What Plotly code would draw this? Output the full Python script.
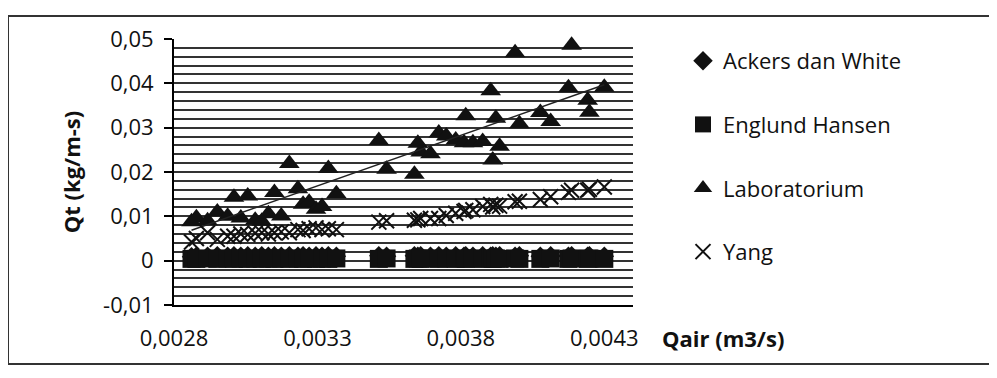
import numpy as np
import plotly.graph_objects as go

# ---- data ----
qair = [0.002861, 0.002878, 0.002917, 0.002951, 0.002987, 0.003009, 0.003033, 0.003057, 0.003083, 0.003106,
        0.003129, 0.003150, 0.003174, 0.003202, 0.003232, 0.003250, 0.003271, 0.003295, 0.003316, 0.003338,
        0.003366,
        0.003514, 0.003541,
        0.003638, 0.003650, 0.003660, 0.003694, 0.003723, 0.003749, 0.003782, 0.003811, 0.003817, 0.003842,
        0.003876, 0.003904, 0.003911, 0.003922, 0.003935, 0.003989, 0.004004,
        0.004077, 0.004113, 0.004175, 0.004186, 0.004242, 0.004248, 0.004300]

laboratorium = [0.0088, 0.0097, 0.0090, 0.0110, 0.0100, 0.0143, 0.0096, 0.0146, 0.0091, 0.0089,
                0.0106, 0.0154, 0.0101, 0.0219, 0.0162, 0.0127, 0.0132, 0.0116, 0.0122, 0.0208,
                0.0151,
                0.0271, 0.0206,
                0.0195, 0.0265, 0.0245, 0.0241, 0.0288, 0.0281, 0.0272, 0.0266, 0.0327, 0.0266,
                0.0269, 0.0383, 0.0227, 0.0321, 0.0258, 0.0469, 0.0309,
                0.0334, 0.0314, 0.0390, 0.0486, 0.0362, 0.0335, 0.0391]

yang = [0.0042, 0.0050, 0.0063, 0.0048, 0.0055, 0.0055, 0.0060, 0.0059, 0.0062, 0.0063,
        0.0060, 0.0063, 0.0065, 0.0063, 0.0070, 0.0068, 0.0072, 0.0074, 0.0070, 0.0072,
        0.0070,
        0.0087, 0.0090,
        0.0091, 0.0092, 0.0095, 0.0095, 0.0095, 0.0102, 0.0107, 0.0111, 0.0113, 0.0115,
        0.0122, 0.0127, 0.0121, 0.0125, 0.0123, 0.0133, 0.0134,
        0.0138, 0.0144, 0.0154, 0.0159, 0.0159, 0.0161, 0.0166]

englund_hansen = [0.0004, 0.0004, 0.0005, 0.0004, 0.0005, 0.0004, 0.0005, 0.0004, 0.0005, 0.0004,
                  0.0005, 0.0004, 0.0005, 0.0004, 0.0005, 0.0004, 0.0005, 0.0004, 0.0005, 0.0004,
                  0.0005,
                  0.0004, 0.0005,
                  0.0004, 0.0005, 0.0004, 0.0005, 0.0004, 0.0005, 0.0004, 0.0005, 0.0004, 0.0005,
                  0.0004, 0.0005, 0.0004, 0.0005, 0.0004, 0.0005, 0.0004,
                  0.0004, 0.0005, 0.0004, 0.0005, 0.0004, 0.0005, 0.0004]

ackers_white = [0.0009, 0.0010, 0.0010, 0.0011, 0.0010, 0.0011, 0.0010, 0.0011, 0.0010, 0.0011,
                0.0010, 0.0011, 0.0010, 0.0011, 0.0010, 0.0011, 0.0010, 0.0011, 0.0010, 0.0011,
                0.0010,
                0.0011, 0.0010,
                0.0011, 0.0010, 0.0011, 0.0010, 0.0011, 0.0010, 0.0011, 0.0010, 0.0011, 0.0010,
                0.0011, 0.0010, 0.0011, 0.0010, 0.0011, 0.0010, 0.0011,
                0.0010, 0.0011, 0.0010, 0.0011, 0.0010, 0.0011, 0.0010]

x_tickvals = [0.0028, 0.0033, 0.0038, 0.0043]
x_ticktext = ["0,0028", "0,0033", "0,0038", "0,0043"]
y_tickvals = [-0.01, 0, 0.01, 0.02, 0.03, 0.04, 0.05]
y_ticktext = ["-0,01", "0", "0,01", "0,02", "0,03", "0,04", "0,05"]

FONT = "Open Sans"
FS = 22
INK = "#111111"

fig = go.Figure()

fig.add_trace(go.Scatter(x=qair, y=ackers_white, mode="markers", name="Ackers dan White",
                         legendgroup="a",
                         marker=dict(symbol="diamond", size=15, color=INK)))
fig.add_trace(go.Scatter(x=qair, y=englund_hansen, mode="markers", name="Englund Hansen",
                         legendgroup="b",
                         marker=dict(symbol="square", size=18, color=INK)))
fig.add_trace(go.Scatter(x=qair, y=laboratorium, mode="markers", name="Laboratorium",
                         legendgroup="c", cliponaxis=False,
                         marker=dict(symbol="triangle-up", size=18, color=INK)))

# linear trendline of Laboratorium
coef = np.polyfit(qair, laboratorium, 1)
tx = [min(qair), max(qair)]
ty = [coef[0] * v + coef[1] for v in tx]
fig.add_trace(go.Scatter(x=tx, y=ty, mode="lines", showlegend=False,
                         line=dict(color="#222222", width=1.5), hoverinfo="skip"))

fig.add_trace(go.Scatter(x=qair, y=yang, mode="markers", name="Yang",
                         legendgroup="d",
                         marker=dict(symbol="x-thin-open", size=15, color=INK,
                                     line=dict(width=2, color=INK))))

# page offset (body margin) and plot-area geometry
OFF = 8
L, T = 166, 31
PW, PH = 459, 266
R = 997 - L - PW
B = 378 - T - PH


def px_x(p):  # rendered pixel -> paper x
    return (p - OFF - L) / PW


def px_y(p):  # rendered pixel -> paper y
    return (T + PH - (p - OFF)) / PH


fig.update_xaxes(range=[0.0028, 0.0044], tickmode="array", tickvals=x_tickvals, ticktext=x_ticktext,
                 showgrid=False, zeroline=False, showline=True, linecolor="black", linewidth=2,
                 ticks="", ticklabelstandoff=13,
                 tickfont=dict(family=FONT, size=FS, color=INK))
fig.update_yaxes(range=[-0.01, 0.05], tickmode="array", tickvals=y_tickvals, ticktext=y_ticktext,
                 showgrid=True, gridcolor="#333333", gridwidth=1.5, zeroline=False,
                 showline=True, linecolor="black", linewidth=2,
                 ticks="outside", ticklen=8, tickwidth=2, tickcolor="black",
                 ticklabelstandoff=6,
                 minor=dict(tick0=0, dtick=0.002, showgrid=True, gridcolor="#333333", gridwidth=1.5,
                            ticks=""),
                 tickfont=dict(family=FONT, size=FS, color=INK),
                 title=dict(text="<b>Qt (kg/m-s)</b>", standoff=16,
                            font=dict(family=FONT, size=FS, color=INK)))

fig.add_shape(type="rect", xref="paper", yref="paper",
              x0=px_x(8), x1=px_x(992), y0=px_y(364), y1=px_y(16),
              line=dict(color="#333333", width=2), fillcolor="rgba(0,0,0,0)", layer="below")

fig.add_annotation(text="<b>Qair (m3/s)</b>", xref="paper", yref="paper",
                   x=px_x(723), y=px_y(338), xanchor="center", yanchor="middle", showarrow=False,
                   font=dict(family=FONT, size=FS, color=INK))

fig.update_layout(
    width=997, height=378,
    margin=dict(l=L, r=R, t=T, b=B),
    paper_bgcolor="white", plot_bgcolor="white",
    font=dict(family=FONT, size=FS, color=INK),
    showlegend=True,
    legend=dict(x=px_x(683), y=px_y(40), xanchor="left", yanchor="top",
                tracegroupgap=32, bgcolor="rgba(0,0,0,0)",
                font=dict(family=FONT, size=FS, color=INK)),
)

fig.write_html("out.html")
